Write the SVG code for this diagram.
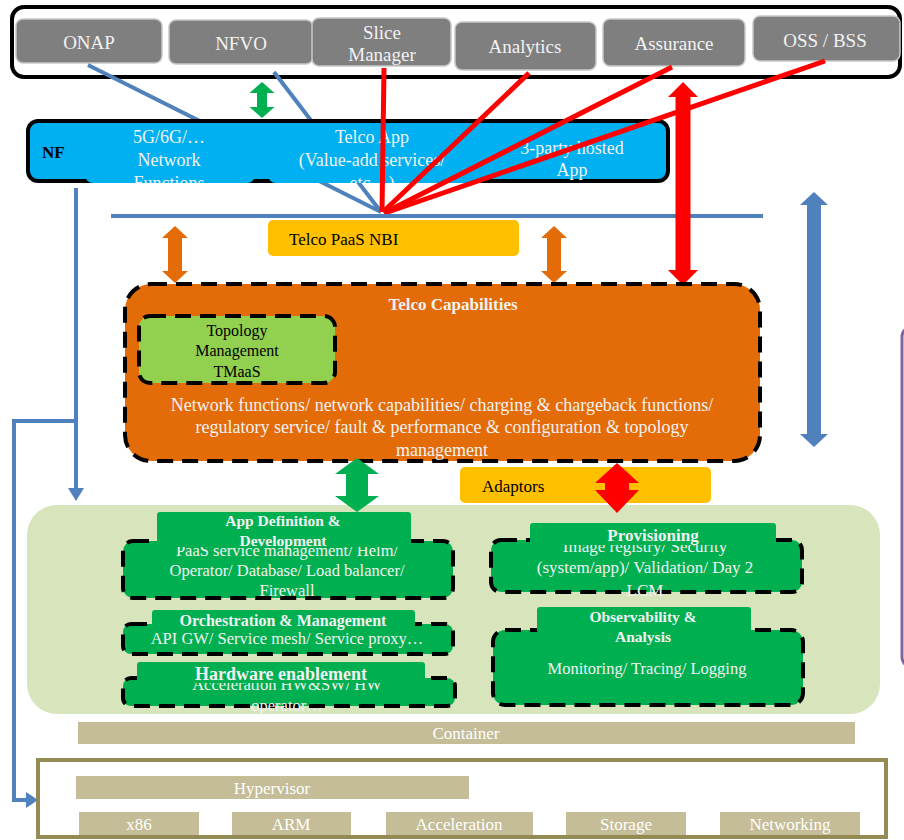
<svg xmlns="http://www.w3.org/2000/svg" width="904" height="840" viewBox="0 0 904 840">
  <style>
    text { font-family: "Liberation Serif", "Times New Roman", serif; }
    .gbox { fill: #7f7f7f; stroke: #c8c8c8; stroke-width: 1.5; }
    .gtxt { fill: #f2f2f2; font-size: 19px; text-anchor: middle; }
    .wtxt { fill: #f2f2f2; text-anchor: middle; }
    .btxt { fill: #000000; }
    .dash { stroke: #000000; stroke-width: 4; stroke-dasharray: 16 9; }
    .gfill { fill: #00b050; }
    .tan { fill: #c4bd97; }
    .tantxt { fill: #ffffff; font-size: 17px; text-anchor: middle; }
    .bline { fill: none; stroke: #4f81bd; stroke-width: 4; }
    .rline { fill: none; stroke: #ff0000; stroke-width: 5; }
  </style>
  <defs>
    <clipPath id="clip5g"><rect x="85" y="120" width="170" height="63"/></clipPath>
    <clipPath id="clipApp"><rect x="268" y="120" width="212" height="63"/></clipPath>
  </defs>

  <!-- management / orchestration bar -->
  <g id="mgmt-bar">
    <rect x="12" y="7" width="888" height="70" rx="12" fill="#ffffff" stroke="#000000" stroke-width="4"/>
  </g>
  <g id="onap">
    <rect class="gbox" x="16" y="19" width="146" height="44" rx="7"/>
    <text class="gtxt" x="89" y="49">ONAP</text>
  </g>
  <g id="nfvo">
    <rect class="gbox" x="169" y="20" width="144" height="44" rx="7"/>
    <text class="gtxt" x="241" y="50">NFVO</text>
  </g>
  <g id="slice-manager">
    <rect class="gbox" x="312" y="18" width="139" height="48" rx="7"/>
    <text class="gtxt" x="382" y="39">Slice</text>
    <text class="gtxt" x="382" y="61">Manager</text>
  </g>
  <g id="analytics">
    <rect class="gbox" x="455" y="22" width="141" height="48" rx="7"/>
    <text class="gtxt" x="525" y="53">Analytics</text>
  </g>
  <g id="assurance">
    <rect class="gbox" x="603" y="19" width="142" height="47" rx="7"/>
    <text class="gtxt" x="674" y="50">Assurance</text>
  </g>
  <g id="oss-bss">
    <rect class="gbox" x="753" y="16" width="147" height="45" rx="7"/>
    <text class="gtxt" x="825" y="47">OSS / BSS</text>
  </g>

  <!-- links running behind the NF layer -->
  <g id="connectors-back">
    <line class="bline" x1="88" y1="65" x2="381" y2="212"/>
    <line class="bline" x1="274" y1="72" x2="381" y2="212"/>
    <polygon fill="#00b050" points="262,82 274.5,93 267,93 267,107 274.5,107 262,118 249.5,107 257,107 257,93 249.5,93"/>
  </g>

  <!-- network function layer -->
  <g id="nf">
    <rect x="28" y="121" width="640" height="60" rx="10" fill="#00b0f0" stroke="#000000" stroke-width="4"/>
    <text x="42" y="158" font-size="17" font-weight="bold" class="btxt">NF</text>
  </g>
  <g id="nf-5g">
    <rect x="85" y="124" width="170" height="59" rx="8" fill="#00b0f0"/>
    <g clip-path="url(#clip5g)">
      <text class="wtxt" font-size="18" x="169" y="143">5G/6G/…</text>
      <text class="wtxt" font-size="18" x="169" y="166">Network</text>
      <text class="wtxt" font-size="18" x="169" y="189">Functions</text>
    </g>
  </g>
  <g id="nf-telco-app">
    <rect x="268" y="124" width="212" height="59" rx="8" fill="#00b0f0"/>
    <g clip-path="url(#clipApp)">
      <text class="wtxt" font-size="18" x="372" y="143">Telco App</text>
      <text class="wtxt" font-size="18" x="372" y="166">(Value-add services/</text>
      <text class="wtxt" font-size="18" x="372" y="189">etc…)</text>
    </g>
  </g>
  <g id="nf-3party">
    <text class="wtxt" font-size="18" x="572" y="154">3-party hosted</text>
    <text class="wtxt" font-size="18" x="572" y="176">App</text>
  </g>

  <!-- links over the NF layer -->
  <g id="connectors">
    <line class="rline" x1="384" y1="68" x2="382" y2="212"/>
    <line class="rline" x1="529" y1="73" x2="383" y2="212"/>
    <line class="rline" x1="672" y1="67" x2="384" y2="213"/>
    <line class="rline" x1="825" y1="61" x2="385" y2="213"/>
    <line x1="111" y1="216" x2="763" y2="216" stroke="#4f81bd" stroke-width="4"/>
    <polygon fill="#e36c09" points="175,226 188,238 182,238 182,271 188,271 175,283 162,271 168,271 168,238 162,238"/>
    <polygon fill="#e36c09" points="554,226 567,238 561,238 561,271 567,271 554,283 541,271 547,271 547,238 541,238"/>
    <polygon fill="#ff0000" points="683,82 698,97 690.5,97 690.5,270 698,270 683,285 668,270 675.5,270 675.5,97 668,97"/>
    <polygon fill="#4f81bd" points="814,192 828,205 821,205 821,434 828,434 814,447 800,434 807,434 807,205 800,205"/>
    <polyline class="bline" points="76,188 76,490"/>
    <polygon fill="#4f81bd" points="68,488 84,488 76,501"/>
    <polyline class="bline" points="76,421 14,421 14,800 28,800"/>
    <polygon fill="#4f81bd" points="26,792 26,808 38,800"/>
  </g>

  <g id="paas-nbi">
    <rect x="268" y="220" width="251" height="36" rx="5" fill="#ffc000"/>
    <text class="btxt" x="289" y="245" font-size="17">Telco PaaS NBI</text>
  </g>

  <!-- side frame -->
  <g id="side-frame">
    <rect x="902" y="327" width="100" height="340" rx="10" fill="none" stroke="#8064a2" stroke-width="3"/>
  </g>

  <!-- telco capabilities -->
  <g id="telco-capabilities">
    <rect class="dash" x="125" y="284" width="635" height="177" rx="26" fill="#e36c09"/>
    <text class="wtxt" x="453" y="310" font-size="17" font-weight="bold">Telco Capabilities</text>
    <text class="wtxt" x="442" y="411" font-size="18">Network functions/ network capabilities/ charging &amp; chargeback functions/</text>
    <text class="wtxt" x="442" y="433" font-size="18">regulatory service/ fault &amp; performance &amp; configuration &amp; topology</text>
    <text class="wtxt" x="442" y="456" font-size="18">management</text>
  </g>
  <g id="topology">
    <rect class="dash" x="139" y="316" width="196" height="67" rx="11" fill="#92d050"/>
    <text class="btxt" text-anchor="middle" x="237" y="336" font-size="16">Topology</text>
    <text class="btxt" text-anchor="middle" x="237" y="356" font-size="16">Management</text>
    <text class="btxt" text-anchor="middle" x="237" y="377" font-size="16">TMaaS</text>
  </g>

  <g id="adaptors">
    <rect x="460" y="467" width="251" height="36" rx="5" fill="#ffc000"/>
    <text class="btxt" x="482" y="492" font-size="17">Adaptors</text>
  </g>

  <!-- cloud native platform -->
  <g id="platform">
    <rect x="27" y="505" width="853" height="209" rx="30" fill="#d8e4bc"/>
  </g>

  <g id="connectors-lower">
    <polygon fill="#00b050" points="357,458 379,474 368,474 368,496 379,496 357,512 335,496 346,496 346,474 335,474"/>
    <polygon fill="#ff0000" points="617,463 639,483 629,483 629,490 639,490 617,513 595,490 605,490 605,483 595,483"/>
  </g>

  <g id="app-definition">
    <rect class="dash gfill" x="123" y="541" width="330" height="57" rx="10"/>
    <text class="wtxt" x="287" y="556" font-size="16.5">PaaS service management/ Helm/</text>
    <text class="wtxt" x="287" y="576" font-size="16.5">Operator/ Database/ Load balancer/</text>
    <text class="wtxt" x="287" y="596" font-size="16.5">Firewall</text>
    <rect class="gfill" x="157" y="512" width="254" height="35" rx="3"/>
    <text class="wtxt" x="283" y="526" font-size="15.5" font-weight="bold">App Definition &amp;</text>
    <text class="wtxt" x="283" y="546" font-size="15.5" font-weight="bold">Development</text>
  </g>

  <g id="orchestration">
    <rect class="dash gfill" x="123" y="624" width="330" height="30" rx="8"/>
    <text class="wtxt" x="287" y="644" font-size="16.5">API GW/ Service mesh/ Service proxy…</text>
    <rect class="gfill" x="152" y="610" width="263" height="18" rx="3"/>
    <text class="wtxt" x="283" y="626" font-size="16" font-weight="bold">Orchestration &amp; Management</text>
  </g>

  <g id="hardware">
    <rect class="dash gfill" x="123" y="678" width="332" height="28" rx="8"/>
    <text class="wtxt" x="287" y="690" font-size="16.5">Acceleration HW&amp;SW/ HW</text>
    <text class="wtxt" x="287" y="711" font-size="16.5">operator…</text>
    <rect class="gfill" x="137" y="662" width="288" height="21" rx="3"/>
    <text class="wtxt" x="281" y="680" font-size="18" font-weight="bold">Hardware enablement</text>
  </g>

  <g id="provisioning">
    <rect class="dash gfill" x="491" y="540" width="311" height="52" rx="10"/>
    <text class="wtxt" x="645" y="552" font-size="17">Image registry/ Security</text>
    <text class="wtxt" x="645" y="573" font-size="17">(system/app)/ Validation/ Day 2</text>
    <text class="wtxt" x="645" y="596" font-size="17">LCM</text>
    <rect class="gfill" x="530" y="523" width="246" height="22" rx="3"/>
    <text class="wtxt" x="653" y="541" font-size="17" font-weight="bold">Provisioning</text>
  </g>

  <g id="observability">
    <rect class="dash gfill" x="493" y="630" width="310" height="75" rx="12"/>
    <rect class="gfill" x="537" y="607" width="214" height="26" rx="3"/>
    <text class="wtxt" x="643" y="622" font-size="15.5" font-weight="bold">Observability  &amp;</text>
    <text class="wtxt" x="643" y="642" font-size="15.5" font-weight="bold">Analysis</text>
    <text class="wtxt" x="647" y="674" font-size="16.5">Monitoring/ Tracing/ Logging</text>
  </g>

  <!-- infrastructure -->
  <g id="container">
    <rect class="tan" x="78" y="722" width="777" height="22"/>
    <text class="tantxt" x="466" y="739">Container</text>
  </g>
  <g id="infrastructure">
    <rect x="38" y="760" width="848" height="77" fill="#ffffff" stroke="#948a54" stroke-width="4"/>
  </g>
  <g id="hypervisor">
    <rect class="tan" x="76" y="776" width="393" height="23"/>
    <text class="tantxt" x="272" y="794">Hypervisor</text>
  </g>
  <g id="x86">
    <rect class="tan" x="79" y="812" width="120" height="23"/>
    <text class="tantxt" x="139" y="830">x86</text>
  </g>
  <g id="arm">
    <rect class="tan" x="232" y="812" width="119" height="23"/>
    <text class="tantxt" x="291" y="830">ARM</text>
  </g>
  <g id="acceleration">
    <rect class="tan" x="386" y="812" width="147" height="23"/>
    <text class="tantxt" x="459" y="830">Acceleration</text>
  </g>
  <g id="storage">
    <rect class="tan" x="566" y="812" width="120" height="23"/>
    <text class="tantxt" x="626" y="830">Storage</text>
  </g>
  <g id="networking">
    <rect class="tan" x="720" y="812" width="140" height="23"/>
    <text class="tantxt" x="790" y="830">Networking</text>
  </g>
</svg>
